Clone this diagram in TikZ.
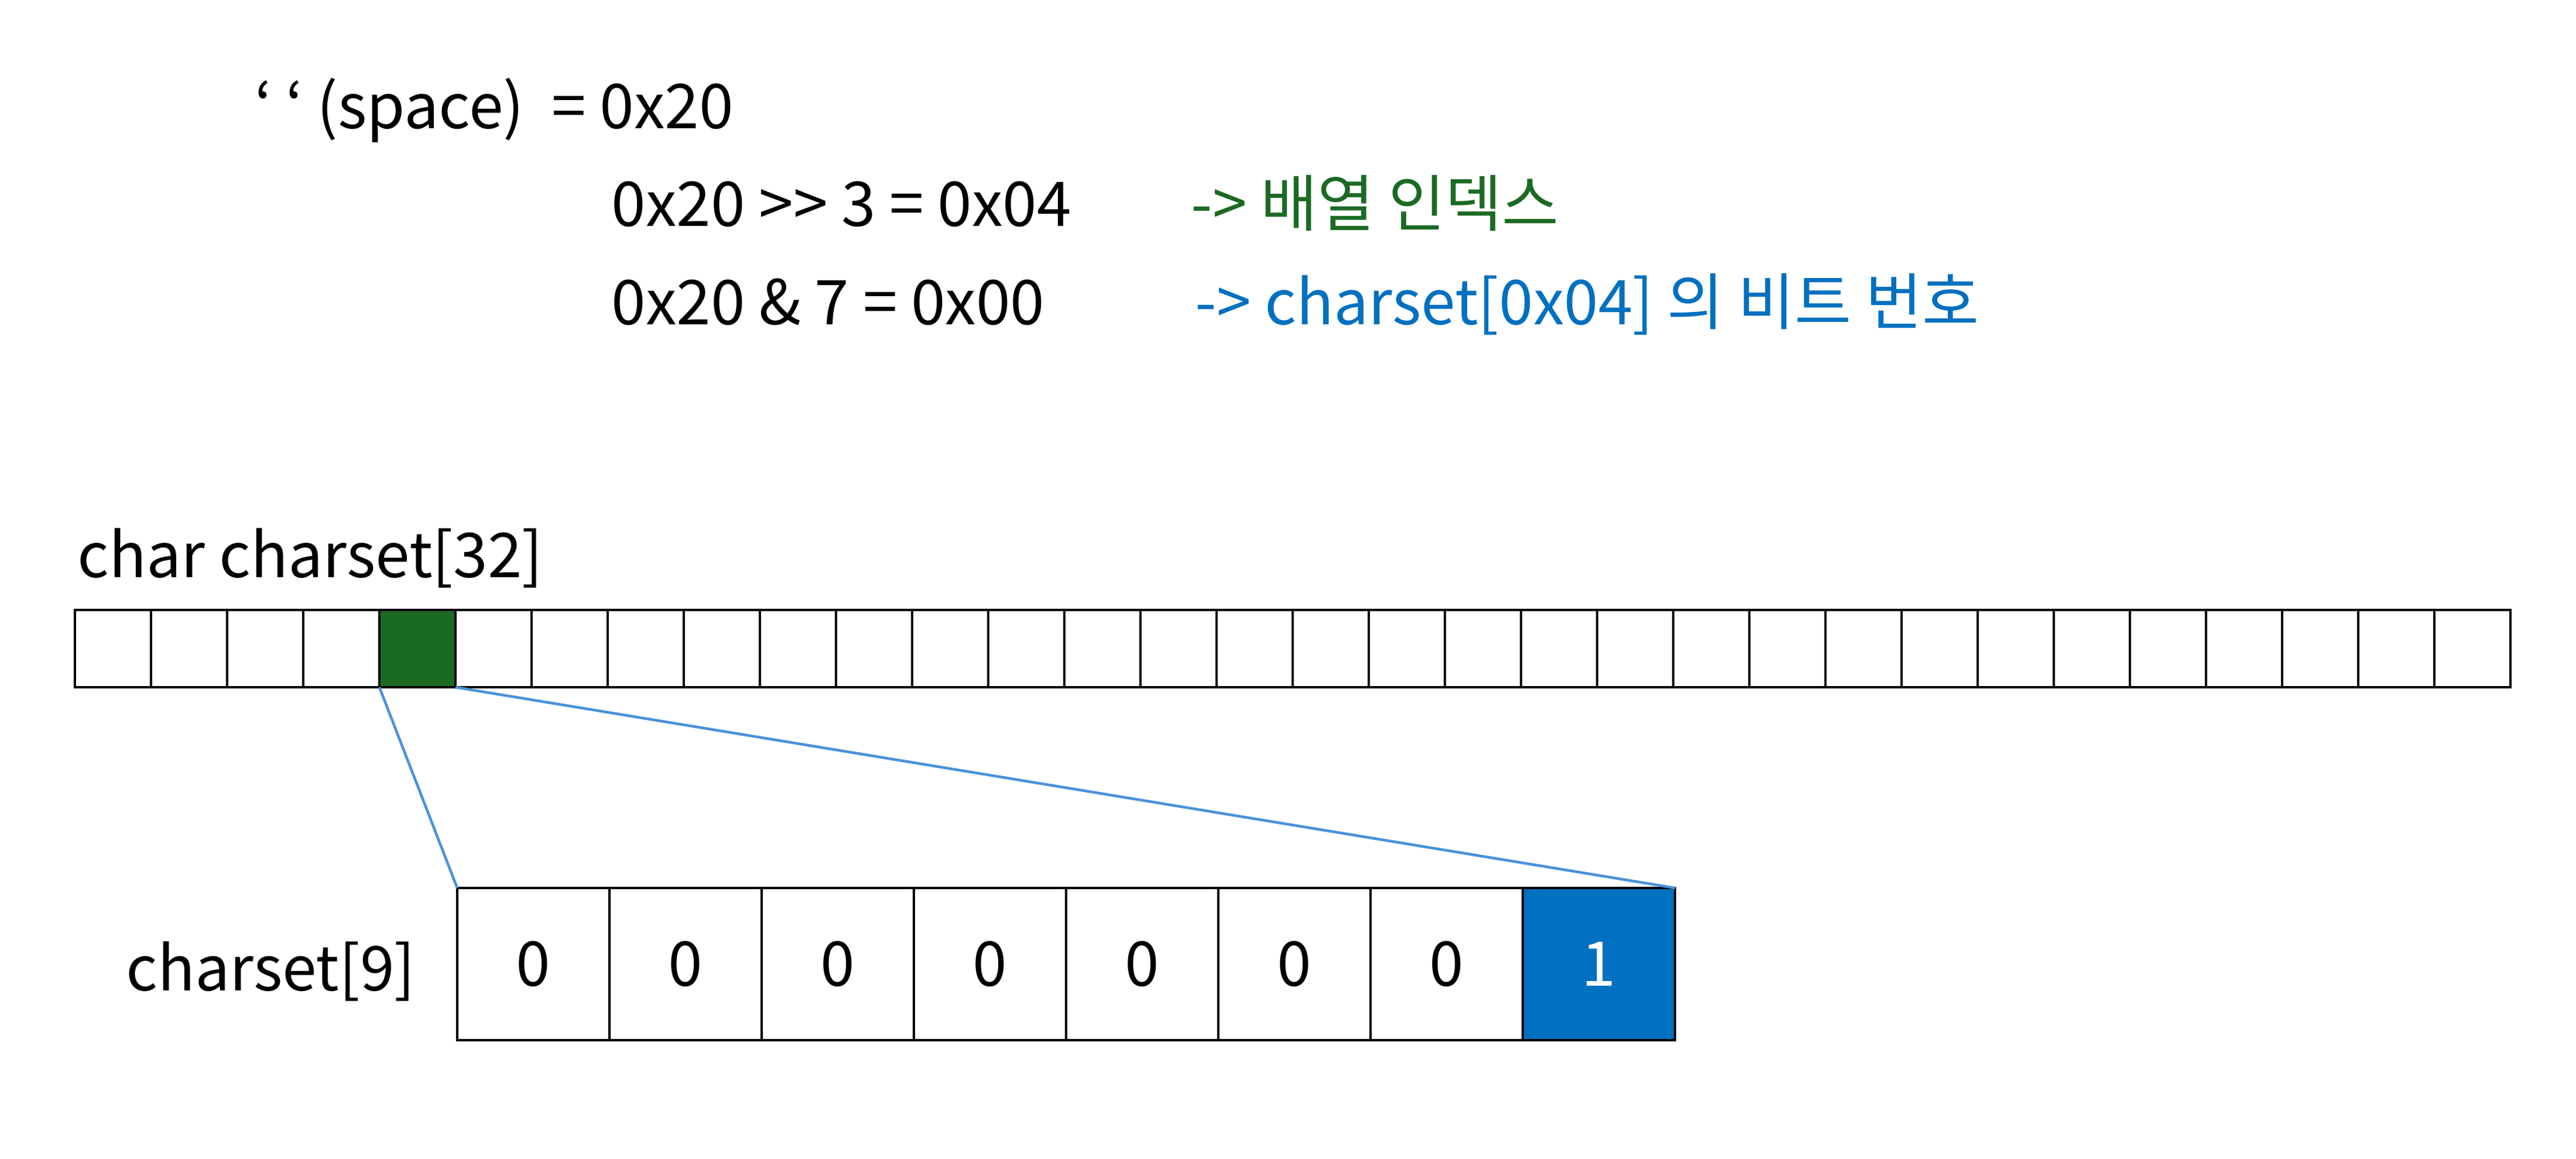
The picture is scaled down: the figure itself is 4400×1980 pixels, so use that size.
\documentclass[tikz,border=0pt]{standalone}
\usepackage{fontspec}
\setmainfont{Noto Sans CJK KR}
\usetikzlibrary{positioning}
\definecolor{idxgreen}{RGB}{27,106,36}
\definecolor{bitblue}{RGB}{0,112,192}
\definecolor{linkblue}{RGB}{74,146,218}
\tikzset{
  cell/.style={draw=black,line width=1.1pt,minimum width=1.3cm,minimum height=1.32cm,inner sep=0pt,outer sep=0pt,anchor=north west},
  bitcell/.style={draw=black,line width=1.1pt,minimum size=2.6cm,inner sep=0pt,outer sep=0pt,anchor=north west,font=\fontsize{30}{36}\selectfont},
  txt/.style={inner sep=0pt,anchor=base west,font=\fontsize{30}{36}\selectfont},
  link/.style={draw=linkblue,line width=1.3pt}
}
\begin{document}
\begin{tikzpicture}[x=0.01cm,y=-0.01cm]
\useasboundingbox (0,0) rectangle (4400,1980);

% header lines
\node[txt] (space) at (435,220) {‘ ‘ (space)\ \ = 0x20};
\node[txt] (shift) at (1044,387) {0x20 >{}> 3 = 0x04};
\node[txt,text=idxgreen] (shiftnote) at (2034,387) {-> 배열 인덱스};
\node[txt] (mask) at (1044,555) {0x20 \& 7 = 0x00};
\node[txt,text=bitblue] (masknote) at (2041,555) {-> charset[0x04] 의 비트 번호};

% charset[32]
\node[txt] (arrname) at (132,987) {char charset[32]};
\foreach \i in {0,...,31}
    \node[cell] (c\i) at (128+\i*130,1042) {};
\node[cell,fill=idxgreen] (c4) at (648,1042) {}; %index 4

% charset[9]
\foreach \i in {0,...,6}
    \node[bitcell] (b\i) at (781+\i*260,1517) {0};
\node[bitcell,fill=bitblue,text=white] (b7) at (2601,1517) {1};
\node[txt,anchor=base east] (bitname) at (710,1692) {charset[9]};

\draw[link] (c4.south west) -- (b0.north west);
\draw[link] (c4.south east) -- (b7.north east);
\end{tikzpicture}
\end{document}
